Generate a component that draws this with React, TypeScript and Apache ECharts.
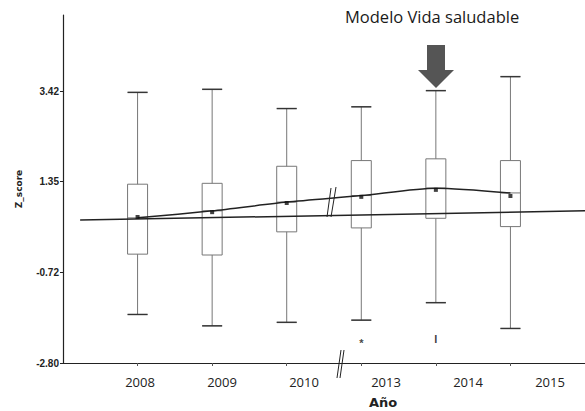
import React, { useEffect, useRef } from "react";
import * as echarts from "echarts";

const categories = ["2008", "2009", "2010", "2013", "2014", "2015"];
const boxMin = [-1.69, -1.95, -1.87, -1.82, -1.42, -2.01];
const boxQ1 = [-0.31, -0.33, 0.2, 0.29, 0.51, 0.32];
const boxMedian = [0.52, 0.68, 0.88, 1.03, 1.2, 1.09];
const boxQ3 = [1.29, 1.31, 1.7, 1.83, 1.87, 1.83];
const boxMax = [3.39, 3.46, 3.02, 3.06, 3.43, 3.75];
const means = [0.54, 0.65, 0.86, 1.0, 1.16, 1.02];
const trend = [0.52, 0.68, 0.88, 1.03, 1.2, 1.09];
const refLineX = [-0.77, 6];
const refLineY = [0.47, 0.68];
const yTickValues = [-2.8, -0.72, 1.35, 3.42];
const yTickLabels = ["-2.80", "-0.72", "1.35", "3.42"];
const markerIndex = [3, 4];
const markerY = [-2.34, -2.25];
const markerText = ["*", "I"];
const titleText = "Modelo Vida saludable";
const xName = "Año";
const yName = "Z_score";

export default function App() {
  const ref = useRef<HTMLDivElement>(null);
  useEffect(() => {
    if (!ref.current) return;
    const chart = echarts.init(ref.current, null, { renderer: "svg" });
    const idx = categories.map((_, i) => i);
    const option: any = {
      animation: false,
      backgroundColor: "#ffffff",
      grid: [
        { left: 63, right: 0, top: 15, bottom: 48 },
        { left: 140, width: 410, top: 15, bottom: 48 },
      ],
      xAxis: [
        {
          type: "value",
          gridIndex: 0,
          min: -1,
          max: 6,
          interval: 1,
          axisLine: { show: true, onZero: false, lineStyle: { color: "#222", width: 1.2 } },
          axisTick: { show: true, customValues: idx, length: 3, lineStyle: { color: "#555" } },
          axisLabel: { show: false },
          splitLine: { show: false },
        },
        {
          type: "category",
          gridIndex: 1,
          data: categories,
          boundaryGap: false,
          axisLine: { show: false },
          axisTick: { show: false },
          axisLabel: {
            show: true,
            margin: 12,
            fontSize: 13,
            color: "#222",
            fontFamily: "Open Sans",
          },
          splitLine: { show: false },
        },
      ],
      yAxis: [
        {
          type: "value",
          gridIndex: 0,
          min: -2.8,
          max: 5.16,
          name: yName,
          nameLocation: "middle",
          nameRotate: 90,
          nameGap: 40,
          nameTextStyle: { fontSize: 9, fontWeight: "bold", color: "#222", fontFamily: "DejaVu Sans" },
          axisLine: { show: true, onZero: false, lineStyle: { color: "#222", width: 1.2 } },
          axisTick: { show: true, customValues: yTickValues, length: 3, lineStyle: { color: "#222" } },
          axisLabel: {
            show: true,
            customValues: yTickValues,
            margin: 4,
            fontSize: 10,
            fontWeight: "bold",
            color: "#222",
            fontFamily: "Liberation Sans Narrow, Liberation Sans",
            formatter: (v: number) => {
              const k = yTickValues.findIndex((t) => Math.abs(t - v) < 1e-6);
              return k >= 0 ? yTickLabels[k] : "";
            },
          },
          splitLine: { show: false },
        },
        { type: "value", gridIndex: 1, show: false, min: 0, max: 1 },
      ],
      series: [
        {
          type: "boxplot",
          xAxisIndex: 0,
          yAxisIndex: 0,
          boxWidth: [20, 20],
          encode: { x: 0, y: [1, 2, 3, 4, 5] },
          itemStyle: { color: "#ffffff", borderColor: "#777", borderWidth: 1 },
          data: idx.map((i) => [i, boxMin[i], boxQ1[i], boxMedian[i], boxQ3[i], boxMax[i]]),
          z: 2,
        },
        {
          type: "scatter",
          xAxisIndex: 0,
          yAxisIndex: 0,
          symbol: "rect",
          symbolSize: [20, 1.5],
          itemStyle: { color: "#222" },
          data: idx.flatMap((i) => [
            [i, boxMin[i]],
            [i, boxMax[i]],
          ]),
          z: 3,
        },
        {
          type: "line",
          xAxisIndex: 0,
          yAxisIndex: 0,
          data: refLineX.map((x, i) => [x, refLineY[i]]),
          showSymbol: false,
          lineStyle: { color: "#222", width: 1.5 },
          z: 4,
        },
        {
          type: "line",
          xAxisIndex: 0,
          yAxisIndex: 0,
          data: idx.map((i) => [i, trend[i]]),
          showSymbol: false,
          smooth: 0.25,
          lineStyle: { color: "#222", width: 1.5 },
          z: 4,
        },
        {
          type: "scatter",
          xAxisIndex: 0,
          yAxisIndex: 0,
          symbol: "rect",
          symbolSize: 4,
          itemStyle: { color: "#111" },
          data: idx.map((i) => [i, means[i]]),
          z: 5,
        },
        {
          type: "scatter",
          xAxisIndex: 0,
          yAxisIndex: 0,
          symbolSize: 0,
          data: markerIndex.map((m, i) => [m, markerY[i]]),
          label: {
            show: true,
            position: "inside",
            fontSize: 11,
            fontWeight: "bold",
            color: "#111",
            formatter: (p: any) => markerText[p.dataIndex],
          },
          z: 5,
        },
      ],
      graphic: [
        {
          type: "text",
          left: 345,
          top: 8,
          style: { text: titleText, fontSize: 16.5, fill: "#1a1a1a", fontFamily: "Open Sans" },
        },
        {
          type: "text",
          x: 383,
          y: 402,
          style: {
            text: xName,
            fontSize: 13,
            fontWeight: "bold",
            fill: "#222",
            fontFamily: "DejaVu Sans",
            align: "center",
            verticalAlign: "middle",
          },
        },
        {
          type: "polygon",
          shape: {
            points: [
              [427, 45],
              [445, 45],
              [445, 70],
              [454, 70],
              [436, 88],
              [418, 70],
              [427, 70],
            ],
          },
          style: { fill: "#555" },
        },
        { type: "line", shape: { x1: 327, y1: 217, x2: 331, y2: 188 }, style: { stroke: "#222", lineWidth: 1 }, z: 10 },
        { type: "line", shape: { x1: 331, y1: 217, x2: 336, y2: 187 }, style: { stroke: "#222", lineWidth: 1 }, z: 10 },
        { type: "line", shape: { x1: 337, y1: 378, x2: 341, y2: 350 }, style: { stroke: "#222", lineWidth: 1 }, z: 10 },
        { type: "line", shape: { x1: 340, y1: 378, x2: 344, y2: 350 }, style: { stroke: "#222", lineWidth: 1 }, z: 10 },
      ],
    };
    chart.setOption(option);
    return () => chart.dispose();
  }, []);
  return (
    <div
      ref={ref}
      style={{ position: "absolute", left: 0, top: 0, width: 585, height: 411, background: "#fff" }}
    />
  );
}
